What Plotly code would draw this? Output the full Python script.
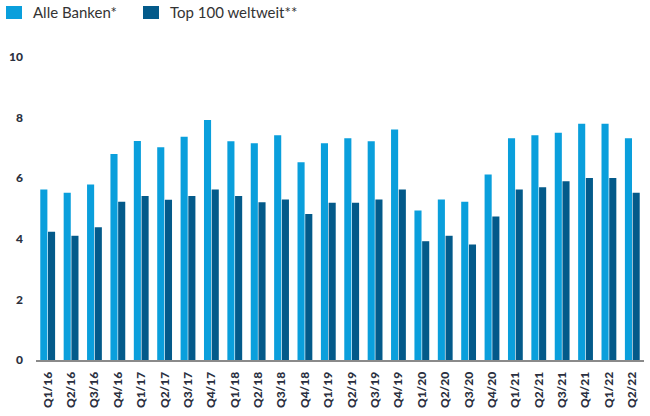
import plotly.graph_objects as go

categories = ["Q1/16", "Q2/16", "Q3/16", "Q4/16", "Q1/17", "Q2/17", "Q3/17", "Q4/17",
              "Q1/18", "Q2/18", "Q3/18", "Q4/18", "Q1/19", "Q2/19", "Q3/19", "Q4/19",
              "Q1/20", "Q2/20", "Q3/20", "Q4/20", "Q1/21", "Q2/21", "Q3/21", "Q4/21",
              "Q1/22", "Q2/22"]
alle_banken = [5.63, 5.52, 5.79, 6.80, 7.23, 7.02, 7.37, 7.92,
               7.22, 7.15, 7.42, 6.53, 7.15, 7.32, 7.22, 7.61,
               4.93, 5.30, 5.22, 6.12, 7.32, 7.42, 7.50, 7.80,
               7.80, 7.32]
top100 = [4.23, 4.10, 4.38, 5.22, 5.41, 5.29, 5.41, 5.63,
          5.41, 5.21, 5.30, 4.82, 5.19, 5.19, 5.30, 5.63,
          3.92, 4.10, 3.81, 4.74, 5.63, 5.70, 5.90, 6.01,
          6.01, 5.52]
series_names = ["Alle Banken*", "Top 100 weltweit**"]
y_ticks = [0, 2, 4, 6, 8, 10]

LIGHT = "#0a9fdc"
DARK = "#035a8a"
TEXT = "#2b3040"

W, H = 650, 416
ML, MR, MT, MB = 36, 6, 57, 56
PW, PH = W - ML - MR, H - MT - MB


def px_x(x):
    return (x - ML) / PW


def px_y(y):
    return (H - MB - y) / PH


fig = go.Figure()
fig.add_trace(go.Bar(x=categories, y=alle_banken, name=series_names[0],
                     marker=dict(color=LIGHT, line=dict(width=0))))
fig.add_trace(go.Bar(x=categories, y=top100, name=series_names[1],
                     marker=dict(color=DARK, line=dict(width=0))))

# custom legend (square swatch + label) placed above the plot
legend_items = [(6, 33, LIGHT, series_names[0]), (143, 170, DARK, series_names[1])]
shapes, annotations = [], []
for sx, tx, col, name in legend_items:
    shapes.append(dict(type="rect", xref="paper", yref="paper",
                       x0=px_x(sx), x1=px_x(sx + 16), y0=px_y(19), y1=px_y(6),
                       fillcolor=col, line=dict(width=0)))
    annotations.append(dict(xref="paper", yref="paper", x=px_x(tx - 2), y=px_y(12.5),
                            xanchor="left", yanchor="middle", showarrow=False,
                            text=name, font=dict(size=15, color="#333333")))

fig.update_layout(
    width=W, height=H,
    margin=dict(l=ML, r=MR, t=MT, b=MB),
    paper_bgcolor="white", plot_bgcolor="white",
    barmode="group", bargap=0.34, bargroupgap=0.08,
    font=dict(family="Lato, Open Sans, sans-serif", color=TEXT),
    showlegend=False,
    shapes=shapes, annotations=annotations,
    xaxis=dict(type="category", tickangle=-90, showgrid=False, ticks="",
               showline=True, linecolor="#8a8a8a", linewidth=2,
               tickfont=dict(size=12, color=TEXT, family="Lato Black, Lato, sans-serif"),
               ticklabelstandoff=5,
               range=[-0.5, len(categories) - 0.5]),
    yaxis=dict(range=[0, 10], tickvals=y_ticks, showgrid=False, zeroline=False,
               ticks="", showline=False,
               tickfont=dict(size=12, color=TEXT, family="Lato Black, Lato, sans-serif"),
               ticklabelstandoff=12),
)

fig.write_html("out.html", config={"displayModeBar": False},
               post_script="document.body.style.margin='0';")
